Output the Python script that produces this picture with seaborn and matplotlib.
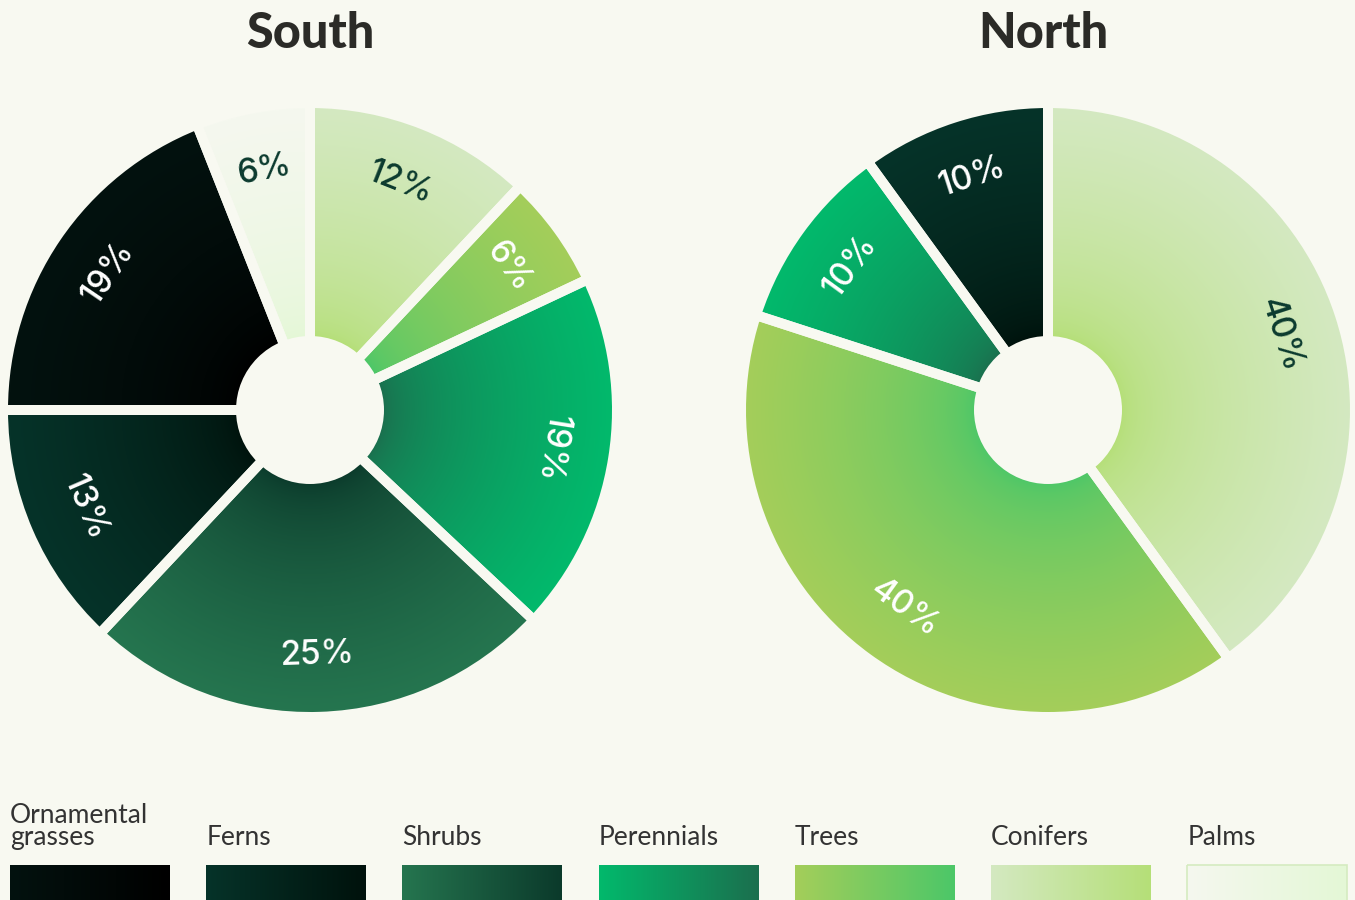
import numpy as np
import pandas as pd
import matplotlib
matplotlib.use("Agg")
import matplotlib.pyplot as plt
import seaborn as sns
from matplotlib.patches import Circle, Rectangle

# categories in legend order
categories = ["Ornamental grasses", "Ferns", "Shrubs", "Perennials", "Trees", "Conifers", "Palms"]
legend_labels = ["Ornamental\ngrasses", "Ferns", "Shrubs", "Perennials", "Trees", "Conifers", "Palms"]

# slices, counter-clockwise from 12 o'clock
south_cats = ["Palms", "Ornamental grasses", "Ferns", "Shrubs", "Perennials", "Trees", "Conifers"]
south_vals = [6, 19, 13, 25, 19, 6, 12]
north_cats = ["Ferns", "Perennials", "Trees", "Conifers"]
north_vals = [10, 10, 40, 40]

# gradient colours: outer rim -> inner (near hole)
outer_col = {"Ornamental grasses": "#03120f", "Ferns": "#063329", "Shrubs": "#25754f",
             "Perennials": "#02b96c", "Trees": "#a4ce5a", "Conifers": "#d4e9c1", "Palms": "#f5f8ef"}
inner_col = {"Ornamental grasses": "#000000", "Ferns": "#00120c", "Shrubs": "#0b3a2b",
             "Perennials": "#1b6f4e", "Trees": "#4cc768", "Conifers": "#b5df78", "Palms": "#e4f7d6"}
dark_label = {"Palms", "Conifers"}

BG = "#f8f9f1"
W, H = 1355, 900
R_PX = 302
HOLE = 74 / 302
GAP_PT = 10 * 72 / 100
SPAN = 1.1

sns.set_theme(style="white")
plt.rcParams["font.family"] = ["Lato", "DejaVu Sans"]

fig = plt.figure(figsize=(W / 100, H / 100), dpi=100, facecolor=BG)

xs = np.linspace(-SPAN, SPAN, 600)
X, Y = np.meshgrid(xs, xs)
T = np.clip((np.hypot(X, Y) - HOLE) / (1 - HOLE), 0, 1) ** 0.6


def donut(cx, cy, cats, vals):
    w = 2 * SPAN * R_PX
    ax = fig.add_axes([(cx - w / 2) / W, (H - cy - w / 2) / H, w / W, w / H])
    wedges, _ = ax.pie(vals, startangle=90, counterclock=True,
                       radius=1 + (GAP_PT / 72 * 100 / 2) / R_PX,
                       colors=["none"] * len(vals),
                       wedgeprops=dict(edgecolor=BG, linewidth=GAP_PT, zorder=2))
    for wdg, cat, v in zip(wedges, cats, vals):
        cmap = sns.blend_palette([inner_col[cat], outer_col[cat]], n_colors=256, as_cmap=True)
        im = ax.imshow(T, cmap=cmap, vmin=0, vmax=1, origin="lower",
                       extent=(-SPAN, SPAN, -SPAN, SPAN), zorder=1, interpolation="bilinear")
        im.set_clip_path(wdg)
        mid = (wdg.theta1 + wdg.theta2) / 2
        rot = ((mid - 90 + 100) % 180) - 100
        rr = 0.81
        ax.text(rr * np.cos(np.radians(mid)), rr * np.sin(np.radians(mid)), f"{v}%",
                rotation=rot, rotation_mode="anchor", ha="center", va="center",
                fontsize=24, fontweight="medium", family=["Inter", "DejaVu Sans"],
                color="#0b3a2e" if cat in dark_label else "white", zorder=4)
    ax.add_patch(Circle((0, 0), HOLE, facecolor=BG, edgecolor="none", zorder=3))
    ax.set_xlim(-SPAN, SPAN)
    ax.set_ylim(-SPAN, SPAN)
    ax.set_aspect("equal")
    ax.set_axis_off()
    return ax


donut(310, 410, south_cats, south_vals)
donut(1048, 410, north_cats, north_vals)

# overlay in pixel coordinates for titles and legend
ov = fig.add_axes([0, 0, 1, 1], facecolor="none")
ov.set_axis_off()

ov.text(310, 33, "South", ha="center", va="center", fontsize=35, fontweight="black", color="#2b2b27")
ov.text(1043, 33, "North", ha="center", va="center", fontsize=35, fontweight="black", color="#2b2b27")

grad = np.linspace(0, 1, 200)[None, :]
for i, (cat, lab) in enumerate(zip(categories, legend_labels)):
    x0 = 10 + i * 196.2
    cmap = sns.blend_palette([outer_col[cat], inner_col[cat]], n_colors=256, as_cmap=True)
    ov.imshow(grad, cmap=cmap, aspect="auto", extent=(x0, x0 + 160, 905, 865), zorder=1)
    if cat == "Palms":
        ov.add_patch(Rectangle((x0, 865), 160, 40, facecolor="none", edgecolor="#d5ebc0", lw=1.2, zorder=2))
    ov.text(x0, 850, lab, ha="left", va="bottom", fontsize=19, fontweight="normal",
            color="#333333", linespacing=0.85)
ov.set_xlim(0, W)
ov.set_ylim(H, 0)

fig.savefig("out.png", dpi=100, facecolor=BG)
